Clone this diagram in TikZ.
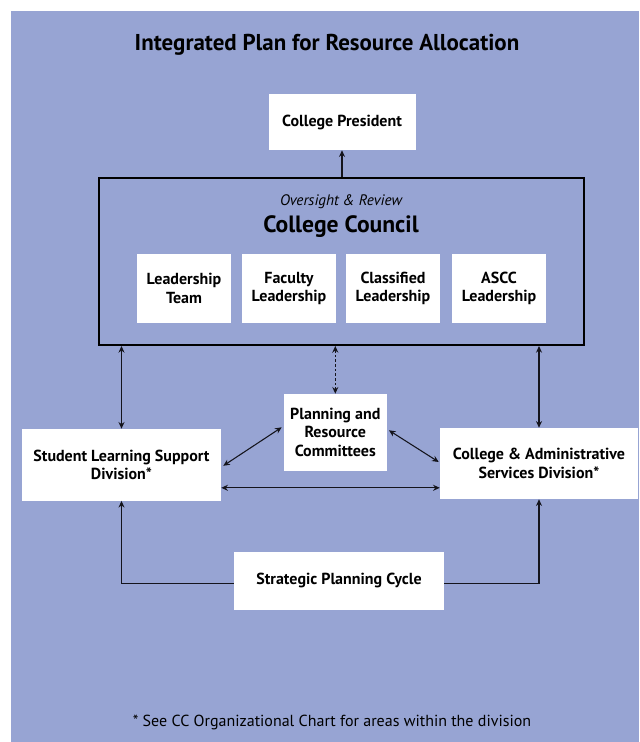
\documentclass[tikz,border=0pt]{standalone}
\usepackage{fontspec}
\setmainfont{PT Sans}
\usetikzlibrary{positioning, calc, arrows.meta}
\definecolor{planblue}{RGB}{151,164,211}
\definecolor{linegray}{RGB}{20,20,28}

\begin{document}
\begin{tikzpicture}[x=0.75pt, y=-0.75pt,
    box/.style={fill=white, draw=none, align=center, inner sep=0pt,
        font=\bfseries\fontsize{12}{14}\selectfont},
    leadbox/.style={box, minimum width=70.5pt, minimum height=51.75pt},
    link/.style={line width=0.8pt, linegray, -{Stealth[length=5pt,width=4.5pt]}},
    twoway/.style={link, {Stealth[length=5pt,width=4.5pt]}-{Stealth[length=5pt,width=4.5pt]}}]

        % ===================================================
        % Background
        % ===================================================
        \useasboundingbox (0,0) rectangle (639,742);
        \fill[planblue] (11,11) rectangle (639,742);

        % ===================================================
        % Titles
        % ===================================================
        \node[font=\bfseries\fontsize{17.2}{20}\selectfont] (title) at (327,45)
            {Integrated Plan for Resource Allocation};
        \node[font=\fontsize{12}{14}\selectfont] (note) at (332,722)
            {* See CC Organizational Chart for areas within the division};

        % ===================================================
        % College President and College Council
        % ===================================================
        \node[box, minimum width=110.25pt, minimum height=42pt] (president) at (342,122)
            {College President};
        \node[draw, line width=1.5pt, minimum width=364pt, minimum height=125.25pt,
            inner sep=0pt] (council) at (341.25,261.5) {};
        \node[font=\itshape\fontsize{11.4}{13}\selectfont] (oversight) at (341,202)
            {Oversight \& Review};
        \node[font=\bfseries\fontsize{17.7}{20}\selectfont] (ccname) at (341,227)
            {College Council};

        % Leadership groups inside the council
        \node[leadbox] (team) at (184,288.5) {Leadership\\Team};
        \node[leadbox] (faculty) at (289,288.5) {Faculty\\Leadership};
        \node[leadbox] (classified) at (393,288.5) {Classified\\Leadership};
        \node[leadbox] (ascc) at (499,288.5) {ASCC\\Leadership};

        % ===================================================
        % Divisions, committees and planning cycle
        % ===================================================
        \node[box, minimum width=77pt, minimum height=57.5pt] (prc) at (335.3,432.3)
            {Planning and\\Resource\\Committees};
        \node[box, minimum width=149.25pt, minimum height=53.8pt] (slsd) at (121.5,464.8)
            {Student Learning Support\\Division*};
        \node[box, minimum width=148.5pt, minimum height=53.25pt] (casd) at (539,463.5)
            {College \& Administrative\\Services Division*};
        \node[box, minimum width=157.5pt, minimum height=43.1pt] (cycle) at (339,580.8)
            {Strategic Planning Cycle};

        % ===================================================
        % Connectors
        % ===================================================
        \draw[link] (president.south |- council.north) -- (president.south);
        \draw[twoway] (slsd.north |- council.south) -- (slsd.north);
        \draw[twoway] (casd.north |- council.south) -- (casd.north);
        \draw[twoway, dash pattern=on 2pt off 1.5pt] (prc.north |- council.south) -- (prc.north);

        \draw[twoway] ([shift={(-2,-5)}]prc.west) -- ([shift={(2,1)}]slsd.east);
        \draw[twoway] ([shift={(2,-2)}]prc.east) -- ([shift={(-1,-1.5)}]casd.west);
        \coordinate (across) at ([yshift=-17.25pt]slsd.east);
        \draw[twoway] (across) -- (across -| casd.west);

        \draw[link] ([yshift=-1.7pt]cycle.west) -| (slsd.south);
        \draw[link] ([yshift=-1.7pt]cycle.east) -| (casd.south);

    \end{tikzpicture}
\end{document}
